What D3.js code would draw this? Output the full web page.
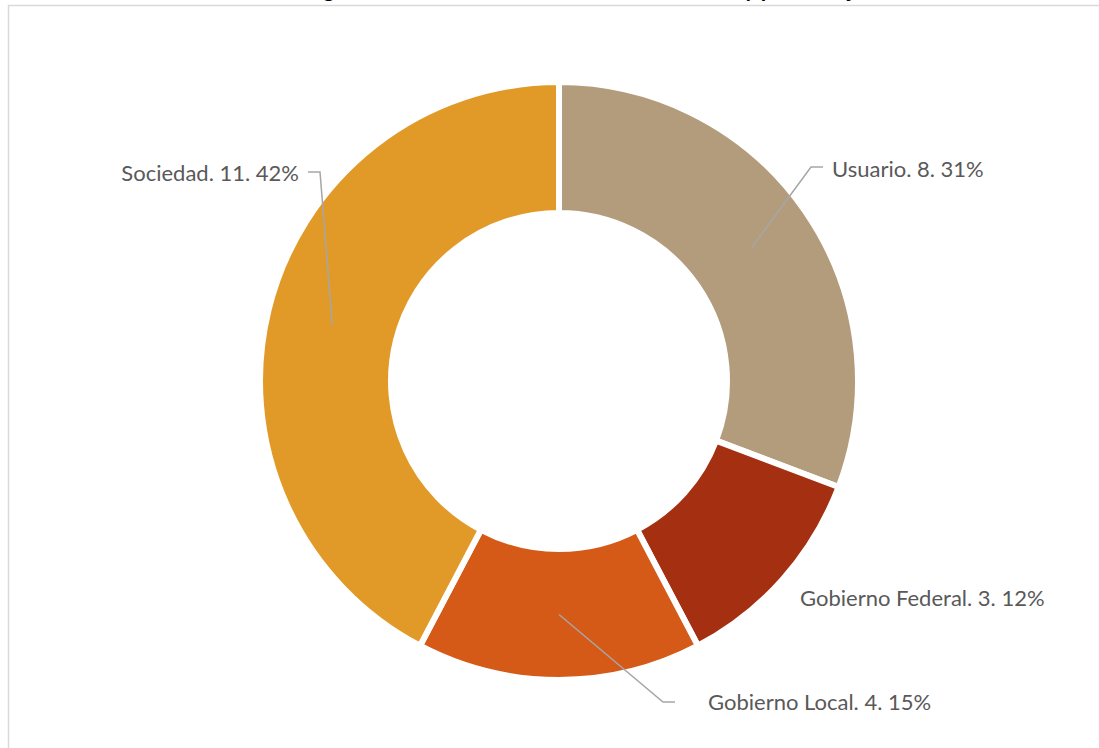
<!DOCTYPE html>
<html lang="es">
<head>
  <meta charset="utf-8">
  <title>Beneficiarios: número y porcentaje</title>
  <script src="https://cdn.jsdelivr.net/npm/d3@7"></script>
  <style>
    html, body { margin: 0; padding: 0; background: #fff; overflow: hidden; }
    .label { font-family: Lato, "Open Sans", sans-serif; font-size: 22px; fill: #595959; }
    .title { font-family: Lato, "Open Sans", sans-serif; font-size: 22px; font-weight: bold; fill: #000; }
    .leader { fill: none; stroke: #a6a6a6; stroke-width: 1.5; }
  </style>
</head>
<body>
<svg id="chart" width="1099" height="748"></svg>
<script>
  // data
  var categories = ['Usuario', 'Gobierno Federal', 'Gobierno Local', 'Sociedad'];
  var values = [8, 3, 4, 11];
  var colors = ['#b39c7c', '#a52f11', '#d55a17', '#e19a27'];
  var titleText = 'Figura 5. Beneficiarios identificados: número y porcentaje';

  var width = 1099, height = 748;
  var cx = 559, cy = 381;
  var outerR = 299, innerR = 168;

  // label layout, relative to the donut centre
  // x, y = text anchor; gap = space between text and leader elbow
  var labelLayout = {
    'Usuario':          { x: 273,  y: -212, anchor: 'start', leader: true,  gap: 9,  ly: -2 },
    'Gobierno Federal': { x: 241,  y: 217,  anchor: 'start', leader: false, gap: 0,  ly: 0 },
    'Gobierno Local':   { x: 149,  y: 321,  anchor: 'start', leader: true,  gap: 33, ly: 0 },
    'Sociedad':         { x: -260, y: -208, anchor: 'end',   leader: true,  gap: 9,  ly: -1 }
  };

  var svg = d3.select('#chart');

  // chart frame
  svg.append('rect')
      .attr('x', 8.5)
      .attr('y', 5.5)
      .attr('width', 1200)
      .attr('height', 900)
      .attr('fill', 'none')
      .attr('stroke', '#d9d9d9')
      .attr('stroke-width', 1.5);

  // title (sits above the visible area, only descenders show)
  svg.append('text')
      .attr('class', 'title')
      .attr('x', 305)
      .attr('y', -3)
      .text(titleText);

  var total = d3.sum(values);
  var data = categories.map(function(c, i) {
    return { name: c, value: values[i], color: colors[i] };
  });

  var pie = d3.pie()
      .sort(null)
      .value(function(d) { return d.value; });

  var arc = d3.arc()
      .innerRadius(innerR)
      .outerRadius(outerR);

  var g = svg.append('g')
      .attr('transform', 'translate(' + cx + ',' + cy + ')');

  var arcs = pie(data);

  g.selectAll('path.slice')
      .data(arcs)
      .enter()
      .append('path')
      .attr('class', 'slice')
      .attr('d', arc)
      .attr('fill', function(d) { return d.data.color; })
      .attr('stroke', '#fff')
      .attr('stroke-width', 6);

  // leader lines
  g.selectAll('path.leader')
      .data(arcs.filter(function(d) { return labelLayout[d.data.name].leader; }))
      .enter()
      .append('path')
      .attr('class', 'leader')
      .attr('d', function(d) {
        var lp = labelLayout[d.data.name];
        var c = arc.centroid(d);
        var dir = lp.anchor === 'start' ? -1 : 1;
        var x0 = lp.x + dir * lp.gap;
        var x1 = x0 + dir * 12;
        var y0 = lp.y + lp.ly;
        return 'M' + x0 + ',' + y0 + 'L' + x1 + ',' + y0 + 'L' + c[0] + ',' + c[1];
      });

  // labels
  g.selectAll('text.label')
      .data(arcs)
      .enter()
      .append('text')
      .attr('class', 'label')
      .attr('x', function(d) { return labelLayout[d.data.name].x; })
      .attr('y', function(d) { return labelLayout[d.data.name].y; })
      .attr('dy', '0.35em')
      .attr('text-anchor', function(d) { return labelLayout[d.data.name].anchor; })
      .text(function(d) {
        return d.data.name + '. ' + d.data.value + '. ' + Math.round(d.data.value / total * 100) + '%';
      });
</script>
</body>
</html>
